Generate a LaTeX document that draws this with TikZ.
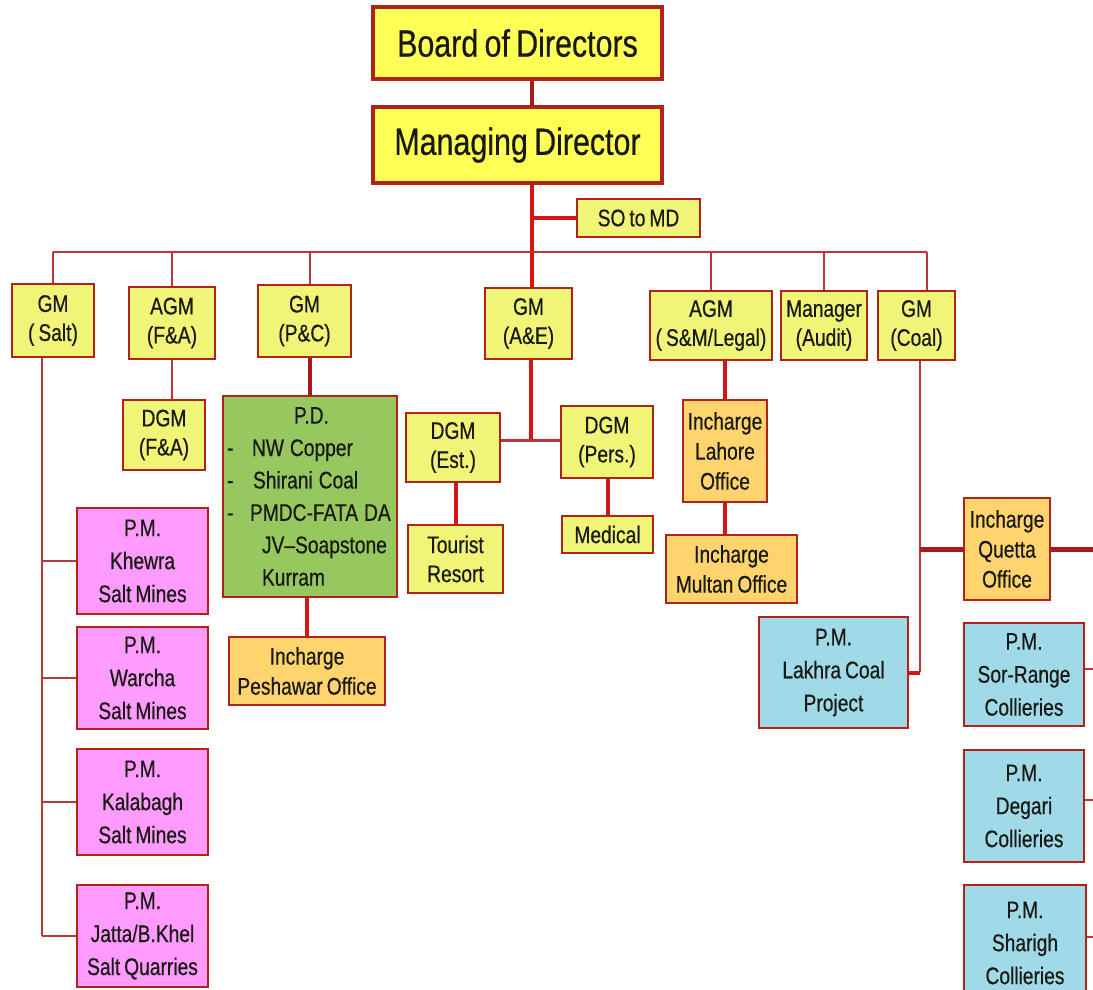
\documentclass[tikz,border=0pt]{standalone}
\usepackage{fontspec}
\setmainfont[FakeStretch=0.8, FakeBold=0.5, WordSpace=0.75]{Liberation Sans}
\definecolor{boxred}{RGB}{175,35,25}
\definecolor{ink}{RGB}{25,25,20}
\definecolor{ytop}{RGB}{255,255,85}
\definecolor{ylight}{RGB}{240,245,120}
\definecolor{orng}{RGB}{255,212,110}
\definecolor{pdgreen}{RGB}{150,200,95}
\definecolor{pmpink}{RGB}{255,155,255}
\definecolor{pmsky}{RGB}{160,218,232}
\definecolor{lred}{RGB}{185,55,55}
\definecolor{hred}{RGB}{215,20,20}
\definecolor{dred}{RGB}{170,25,25}

\begin{document}
\begin{tikzpicture}[x=1pt, y=-1pt,
    wh/.style 2 args={minimum width=#1pt, minimum height=#2pt},
    box/.style={draw=boxred, line width=2.5pt, fill=ylight, inner sep=0pt, align=center, text=ink, font=\fontsize{24}{29}\selectfont},
    topbox/.style={box, line width=4pt, fill=ytop, font=\fontsize{38}{40}\selectfont},
    officebox/.style={box, fill=orng, font=\fontsize{24}{30}\selectfont},
    pmbox/.style={box, fill=pmpink, font=\fontsize{24}{33}\selectfont},
    coalbox/.style={box, fill=pmsky, font=\fontsize{24}{33}\selectfont},
    pdbox/.style={box, fill=pdgreen, align=left, inner xsep=4pt, text width=166pt, font=\fontsize{24}{32.4}\selectfont},
    linkthin/.style={draw=lred, line width=2pt},
    linkheavy/.style={draw=hred, line width=4pt}]
\useasboundingbox (0,0) rectangle (1093,989);
\fill[white] (0,0) rectangle (1093,989);
\clip (0,0) rectangle (1093,989);

\node[topbox, wh={289}{72}] (bod) at (517.5,43) {Board of Directors};
\node[topbox, wh={289}{76}] (md) at (517.5,145) {Managing Director};
\node[box, wh={123}{38}] (so) at (638.5,218) {SO to MD};

\node[box, wh={82}{73}] (gmsalt) at (53,320.5) {GM\\( Salt)};
\node[box, wh={86}{72}] (agmfa) at (172,323) {AGM\\(F\&A)};
\node[box, wh={93}{72}] (gmpc) at (304.5,321) {GM\\(P\&C)};
\node[box, wh={87}{71}] (gmae) at (528.5,323.5) {GM\\(A\&E)};
\node[box, wh={122}{69}] (agmsm) at (711,325.5) {AGM\\( S\&M/Legal)};
\node[box, wh={86}{69}] (audit) at (824,325.5) {Manager\\(Audit)};
\node[box, wh={77}{69}] (gmcoal) at (916.5,325.5) {GM\\(Coal)};

\node[box, wh={82}{70}] (dgmfa) at (164,435) {DGM\\(F\&A)};
\node[pdbox, minimum height=201pt] (pd) at (310,496.5) {\hspace*{67pt}P.D.\\
  \makebox[25pt][l]{-}NW\hspace{6pt}Copper\\
  \makebox[26pt][l]{-}Shirani\hspace{6pt}Coal\\
  \makebox[23pt][l]{-}PMDC-FATA\hspace{6pt}DA\\
  \hspace*{35pt}JV--Soapstone\\
  \hspace*{35pt}Kurram};
\node[officebox, wh={156}{68}] (peshawar) at (307,671) {Incharge\\Peshawar Office};
\node[box, wh={94}{69}] (dgmest) at (453,447.5) {DGM\\(Est.)};
\node[box, wh={95}{68}] (tourist) at (455.5,559) {Tourist\\Resort};
\node[box, wh={92}{72}] (dgmpers) at (607,442) {DGM\\(Pers.)};
\node[box, wh={91}{37}] (medical) at (607.5,534.5) {Medical};
\node[officebox, wh={84}{102}] (lahore) at (725,451) {Incharge\\Lahore\\Office};
\node[officebox, wh={131}{68}] (multan) at (731.5,569) {Incharge\\Multan Office};
\node[officebox, wh={86}{102}] (quetta) at (1007,549) {Incharge\\Quetta\\Office};

\node[coalbox, wh={149}{111}] (lakhra) at (833.5,672.5) {P.M.\\Lakhra Coal\\Project};
\node[coalbox, wh={120}{103}] (sorrange) at (1024,674.5) {P.M.\\Sor-Range\\Collieries};
\node[coalbox, wh={120}{112}] (degari) at (1024,806) {P.M.\\Degari\\Collieries};
\node[coalbox, wh={122}{116}] (sharigh) at (1025,943) {P.M.\\Sharigh\\Collieries};

\node[pmbox, wh={131}{106}] (khewra) at (142.5,561) {P.M.\\Khewra\\Salt Mines};
\node[pmbox, wh={131}{102}] (warcha) at (142.5,678) {P.M.\\Warcha\\Salt Mines};
\node[pmbox, wh={131}{106}] (kalabagh) at (142.5,802) {P.M.\\Kalabagh\\Salt Mines};
\node[pmbox, wh={131}{102}] (jatta) at (142.5,936) {P.M.\\Jatta/B.Khel\\Salt Quarries};

\coordinate (stem) at (532,252);
\coordinate (saltline) at (42,0);
\coordinate (aejoin) at (531,440);
\coordinate (coaljoin) at (920,672);
\coordinate (coaltop) at ([xshift=10.5pt]gmcoal.north);
\coordinate (edge) at (1100,0);

\draw[linkheavy, draw=dred] (bod.south -| stem) -- (md.north -| stem);
\draw[linkheavy] (md.south -| stem) -- (gmae.north -| stem);
\draw[linkheavy] (stem |- so.west) -- (so.west);
\draw[linkthin] (gmsalt.north |- stem) -- (coaltop |- stem);
\foreach \b in {gmsalt, agmfa, agmsm, audit}
  \draw[linkthin] (\b.north) -- (\b.north |- stem);
\draw[linkthin] (pd.north |- gmpc.north) -- (pd.north |- stem);
\draw[linkthin] (coaltop) -- (coaltop |- stem);

\draw[linkthin] (agmfa.south) -- (agmfa.south |- dgmfa.north);
\draw[linkheavy, draw=dred] (pd.north |- gmpc.south) -- (pd.north);
\draw[linkheavy] (peshawar.north) -- (peshawar.north |- pd.south);
\draw[linkheavy] (gmae.south -| aejoin) -- (aejoin);
\draw[linkthin, line width=3pt] (dgmest.east |- aejoin) -- (dgmpers.west |- aejoin);
\draw[linkheavy] (tourist.north) -- (tourist.north |- dgmest.south);
\draw[linkheavy] (medical.north) -- (medical.north |- dgmpers.south);
\draw[linkheavy] (lahore.north) -- (lahore.north |- agmsm.south);
\draw[linkheavy] (lahore.south) -- (lahore.south |- multan.north);

\draw[linkthin] (coaljoin |- gmcoal.south) -- (coaljoin);
\draw[linkheavy] (lakhra.east) -- (lakhra.east -| coaljoin);
\draw[linkheavy, draw=dred, line width=5pt] (quetta.west) -- (quetta.west -| coaljoin);
\draw[linkheavy, draw=dred, line width=5pt] (quetta.east) -- (quetta.east -| edge);
\foreach \b in {sorrange, degari, sharigh}
  \draw[linkthin] ([yshift=6pt]\b.east) -- ++(20,0);

\draw[linkthin] (gmsalt.south -| saltline) -- (jatta.west -| saltline);
\foreach \b in {khewra, warcha, kalabagh, jatta}
  \draw[linkthin] (\b.west) -- (\b.west -| saltline);
\end{tikzpicture}
\end{document}
